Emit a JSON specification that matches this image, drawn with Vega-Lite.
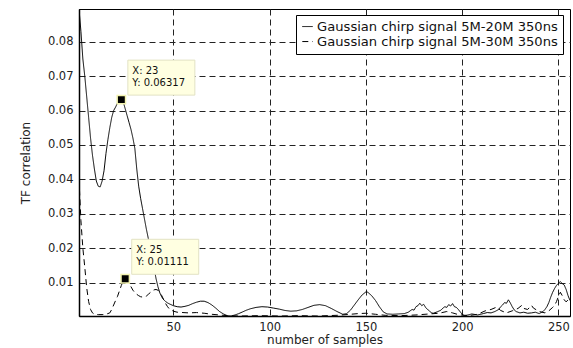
{
  "$schema": "https://vega.github.io/schema/vega-lite/v6.json",
  "autosize": {"type": "none"},
  "padding": {"left": 79, "top": 9, "right": 3, "bottom": 32},
  "width": 491,
  "height": 307,
  "background": "white",
  "config": {
    "view": {"stroke": "black", "strokeWidth": 1},
    "axis": {
      "domainColor": "black", "domainWidth": 1.5,
      "gridColor": "#222", "gridDash": [6, 4], "gridWidth": 1,
      "ticks": false,
      "labelFont": "DejaVu Sans", "labelFontSize": 11.5, "labelColor": "#222",
      "titleFont": "DejaVu Sans", "titleFontSize": 12, "titleFontWeight": "normal", "titleColor": "#222"
    },
    "legend": {
      "orient": "none", "legendX": 217, "legendY": 6,
      "fillColor": "white", "strokeColor": "black", "padding": 5,
      "labelFont": "DejaVu Sans", "labelFontSize": 13.1, "labelColor": "#111", "labelLimit": 0,
      "symbolType": "stroke", "symbolStrokeWidth": 1, "symbolStrokeColor": "black",
      "symbolSize": 110, "labelOffset": 3, "rowPadding": 1
    }
  },
  "datasets": {
    "curves": [
      {"x":1,"y":0.0895,"s":"Gaussian chirp signal 5M-20M 350ns"},{"x":2,"y":0.083,"s":"Gaussian chirp signal 5M-20M 350ns"},{"x":3,"y":0.075,"s":"Gaussian chirp signal 5M-20M 350ns"},{"x":4,"y":0.07,"s":"Gaussian chirp signal 5M-20M 350ns"},{"x":5,"y":0.064,"s":"Gaussian chirp signal 5M-20M 350ns"},{"x":6,"y":0.058,"s":"Gaussian chirp signal 5M-20M 350ns"},{"x":7,"y":0.052,"s":"Gaussian chirp signal 5M-20M 350ns"},{"x":8,"y":0.047,"s":"Gaussian chirp signal 5M-20M 350ns"},{"x":9,"y":0.043,"s":"Gaussian chirp signal 5M-20M 350ns"},{"x":10,"y":0.0395,"s":"Gaussian chirp signal 5M-20M 350ns"},{"x":11,"y":0.038,"s":"Gaussian chirp signal 5M-20M 350ns"},{"x":12,"y":0.0378,"s":"Gaussian chirp signal 5M-20M 350ns"},{"x":13,"y":0.0395,"s":"Gaussian chirp signal 5M-20M 350ns"},{"x":14,"y":0.0425,"s":"Gaussian chirp signal 5M-20M 350ns"},{"x":15,"y":0.0475,"s":"Gaussian chirp signal 5M-20M 350ns"},{"x":16,"y":0.0515,"s":"Gaussian chirp signal 5M-20M 350ns"},{"x":17,"y":0.055,"s":"Gaussian chirp signal 5M-20M 350ns"},{"x":18,"y":0.058,"s":"Gaussian chirp signal 5M-20M 350ns"},{"x":19,"y":0.06,"s":"Gaussian chirp signal 5M-20M 350ns"},{"x":20,"y":0.061,"s":"Gaussian chirp signal 5M-20M 350ns"},{"x":21,"y":0.0622,"s":"Gaussian chirp signal 5M-20M 350ns"},{"x":22,"y":0.063,"s":"Gaussian chirp signal 5M-20M 350ns"},{"x":23,"y":0.06317,"s":"Gaussian chirp signal 5M-20M 350ns"},{"x":24,"y":0.0625,"s":"Gaussian chirp signal 5M-20M 350ns"},{"x":25,"y":0.0605,"s":"Gaussian chirp signal 5M-20M 350ns"},{"x":26,"y":0.0585,"s":"Gaussian chirp signal 5M-20M 350ns"},{"x":27,"y":0.0565,"s":"Gaussian chirp signal 5M-20M 350ns"},{"x":28,"y":0.0545,"s":"Gaussian chirp signal 5M-20M 350ns"},{"x":29,"y":0.052,"s":"Gaussian chirp signal 5M-20M 350ns"},{"x":30,"y":0.049,"s":"Gaussian chirp signal 5M-20M 350ns"},{"x":31,"y":0.043,"s":"Gaussian chirp signal 5M-20M 350ns"},{"x":32,"y":0.038,"s":"Gaussian chirp signal 5M-20M 350ns"},{"x":33,"y":0.0345,"s":"Gaussian chirp signal 5M-20M 350ns"},{"x":34,"y":0.0315,"s":"Gaussian chirp signal 5M-20M 350ns"},{"x":35,"y":0.0285,"s":"Gaussian chirp signal 5M-20M 350ns"},{"x":36,"y":0.0255,"s":"Gaussian chirp signal 5M-20M 350ns"},{"x":37,"y":0.0228,"s":"Gaussian chirp signal 5M-20M 350ns"},{"x":38,"y":0.02,"s":"Gaussian chirp signal 5M-20M 350ns"},{"x":39,"y":0.0172,"s":"Gaussian chirp signal 5M-20M 350ns"},{"x":40,"y":0.0142,"s":"Gaussian chirp signal 5M-20M 350ns"},{"x":41,"y":0.0112,"s":"Gaussian chirp signal 5M-20M 350ns"},{"x":42,"y":0.0088,"s":"Gaussian chirp signal 5M-20M 350ns"},{"x":43,"y":0.007,"s":"Gaussian chirp signal 5M-20M 350ns"},{"x":44,"y":0.0058,"s":"Gaussian chirp signal 5M-20M 350ns"},{"x":45,"y":0.005,"s":"Gaussian chirp signal 5M-20M 350ns"},{"x":46,"y":0.0045,"s":"Gaussian chirp signal 5M-20M 350ns"},{"x":47,"y":0.0041,"s":"Gaussian chirp signal 5M-20M 350ns"},{"x":48,"y":0.0038,"s":"Gaussian chirp signal 5M-20M 350ns"},{"x":50,"y":0.0033,"s":"Gaussian chirp signal 5M-20M 350ns"},{"x":52,"y":0.003,"s":"Gaussian chirp signal 5M-20M 350ns"},{"x":54,"y":0.0029,"s":"Gaussian chirp signal 5M-20M 350ns"},{"x":56,"y":0.0031,"s":"Gaussian chirp signal 5M-20M 350ns"},{"x":58,"y":0.0034,"s":"Gaussian chirp signal 5M-20M 350ns"},{"x":60,"y":0.0039,"s":"Gaussian chirp signal 5M-20M 350ns"},{"x":62,"y":0.0043,"s":"Gaussian chirp signal 5M-20M 350ns"},{"x":64,"y":0.0046,"s":"Gaussian chirp signal 5M-20M 350ns"},{"x":66,"y":0.0046,"s":"Gaussian chirp signal 5M-20M 350ns"},{"x":68,"y":0.0042,"s":"Gaussian chirp signal 5M-20M 350ns"},{"x":70,"y":0.0035,"s":"Gaussian chirp signal 5M-20M 350ns"},{"x":72,"y":0.0026,"s":"Gaussian chirp signal 5M-20M 350ns"},{"x":74,"y":0.0016,"s":"Gaussian chirp signal 5M-20M 350ns"},{"x":76,"y":0.0009,"s":"Gaussian chirp signal 5M-20M 350ns"},{"x":78,"y":0.0004,"s":"Gaussian chirp signal 5M-20M 350ns"},{"x":80,"y":0.0003,"s":"Gaussian chirp signal 5M-20M 350ns"},{"x":82,"y":0.0006,"s":"Gaussian chirp signal 5M-20M 350ns"},{"x":84,"y":0.001,"s":"Gaussian chirp signal 5M-20M 350ns"},{"x":86,"y":0.0015,"s":"Gaussian chirp signal 5M-20M 350ns"},{"x":88,"y":0.002,"s":"Gaussian chirp signal 5M-20M 350ns"},{"x":90,"y":0.0024,"s":"Gaussian chirp signal 5M-20M 350ns"},{"x":93,"y":0.0028,"s":"Gaussian chirp signal 5M-20M 350ns"},{"x":96,"y":0.003,"s":"Gaussian chirp signal 5M-20M 350ns"},{"x":99,"y":0.0029,"s":"Gaussian chirp signal 5M-20M 350ns"},{"x":102,"y":0.0026,"s":"Gaussian chirp signal 5M-20M 350ns"},{"x":105,"y":0.0023,"s":"Gaussian chirp signal 5M-20M 350ns"},{"x":108,"y":0.0019,"s":"Gaussian chirp signal 5M-20M 350ns"},{"x":111,"y":0.0017,"s":"Gaussian chirp signal 5M-20M 350ns"},{"x":114,"y":0.0018,"s":"Gaussian chirp signal 5M-20M 350ns"},{"x":117,"y":0.0022,"s":"Gaussian chirp signal 5M-20M 350ns"},{"x":120,"y":0.0028,"s":"Gaussian chirp signal 5M-20M 350ns"},{"x":123,"y":0.0034,"s":"Gaussian chirp signal 5M-20M 350ns"},{"x":126,"y":0.0036,"s":"Gaussian chirp signal 5M-20M 350ns"},{"x":129,"y":0.0033,"s":"Gaussian chirp signal 5M-20M 350ns"},{"x":132,"y":0.0025,"s":"Gaussian chirp signal 5M-20M 350ns"},{"x":135,"y":0.0016,"s":"Gaussian chirp signal 5M-20M 350ns"},{"x":138,"y":0.0008,"s":"Gaussian chirp signal 5M-20M 350ns"},{"x":140,"y":0.001,"s":"Gaussian chirp signal 5M-20M 350ns"},{"x":142,"y":0.002,"s":"Gaussian chirp signal 5M-20M 350ns"},{"x":144,"y":0.0035,"s":"Gaussian chirp signal 5M-20M 350ns"},{"x":146,"y":0.005,"s":"Gaussian chirp signal 5M-20M 350ns"},{"x":148,"y":0.0064,"s":"Gaussian chirp signal 5M-20M 350ns"},{"x":150,"y":0.0073,"s":"Gaussian chirp signal 5M-20M 350ns"},{"x":151,"y":0.0072,"s":"Gaussian chirp signal 5M-20M 350ns"},{"x":153,"y":0.0062,"s":"Gaussian chirp signal 5M-20M 350ns"},{"x":155,"y":0.0048,"s":"Gaussian chirp signal 5M-20M 350ns"},{"x":157,"y":0.003,"s":"Gaussian chirp signal 5M-20M 350ns"},{"x":159,"y":0.0015,"s":"Gaussian chirp signal 5M-20M 350ns"},{"x":161,"y":0.0009,"s":"Gaussian chirp signal 5M-20M 350ns"},{"x":164,"y":0.0008,"s":"Gaussian chirp signal 5M-20M 350ns"},{"x":167,"y":0.0009,"s":"Gaussian chirp signal 5M-20M 350ns"},{"x":170,"y":0.001,"s":"Gaussian chirp signal 5M-20M 350ns"},{"x":172,"y":0.0014,"s":"Gaussian chirp signal 5M-20M 350ns"},{"x":174,"y":0.0022,"s":"Gaussian chirp signal 5M-20M 350ns"},{"x":175,"y":0.002,"s":"Gaussian chirp signal 5M-20M 350ns"},{"x":176,"y":0.003,"s":"Gaussian chirp signal 5M-20M 350ns"},{"x":177,"y":0.0033,"s":"Gaussian chirp signal 5M-20M 350ns"},{"x":178,"y":0.004,"s":"Gaussian chirp signal 5M-20M 350ns"},{"x":179,"y":0.0033,"s":"Gaussian chirp signal 5M-20M 350ns"},{"x":180,"y":0.0037,"s":"Gaussian chirp signal 5M-20M 350ns"},{"x":181,"y":0.0028,"s":"Gaussian chirp signal 5M-20M 350ns"},{"x":182,"y":0.0022,"s":"Gaussian chirp signal 5M-20M 350ns"},{"x":183,"y":0.0018,"s":"Gaussian chirp signal 5M-20M 350ns"},{"x":184,"y":0.0012,"s":"Gaussian chirp signal 5M-20M 350ns"},{"x":185,"y":0.0011,"s":"Gaussian chirp signal 5M-20M 350ns"},{"x":187,"y":0.0015,"s":"Gaussian chirp signal 5M-20M 350ns"},{"x":189,"y":0.002,"s":"Gaussian chirp signal 5M-20M 350ns"},{"x":190,"y":0.0026,"s":"Gaussian chirp signal 5M-20M 350ns"},{"x":191,"y":0.003,"s":"Gaussian chirp signal 5M-20M 350ns"},{"x":192,"y":0.0028,"s":"Gaussian chirp signal 5M-20M 350ns"},{"x":193,"y":0.0036,"s":"Gaussian chirp signal 5M-20M 350ns"},{"x":194,"y":0.0032,"s":"Gaussian chirp signal 5M-20M 350ns"},{"x":195,"y":0.0039,"s":"Gaussian chirp signal 5M-20M 350ns"},{"x":196,"y":0.003,"s":"Gaussian chirp signal 5M-20M 350ns"},{"x":197,"y":0.0028,"s":"Gaussian chirp signal 5M-20M 350ns"},{"x":198,"y":0.0022,"s":"Gaussian chirp signal 5M-20M 350ns"},{"x":199,"y":0.0015,"s":"Gaussian chirp signal 5M-20M 350ns"},{"x":200,"y":0.0008,"s":"Gaussian chirp signal 5M-20M 350ns"},{"x":201,"y":0.0004,"s":"Gaussian chirp signal 5M-20M 350ns"},{"x":203,"y":0.0006,"s":"Gaussian chirp signal 5M-20M 350ns"},{"x":205,"y":0.0009,"s":"Gaussian chirp signal 5M-20M 350ns"},{"x":208,"y":0.0006,"s":"Gaussian chirp signal 5M-20M 350ns"},{"x":211,"y":0.001,"s":"Gaussian chirp signal 5M-20M 350ns"},{"x":213,"y":0.0013,"s":"Gaussian chirp signal 5M-20M 350ns"},{"x":215,"y":0.0012,"s":"Gaussian chirp signal 5M-20M 350ns"},{"x":217,"y":0.0016,"s":"Gaussian chirp signal 5M-20M 350ns"},{"x":219,"y":0.0022,"s":"Gaussian chirp signal 5M-20M 350ns"},{"x":220,"y":0.003,"s":"Gaussian chirp signal 5M-20M 350ns"},{"x":221,"y":0.0035,"s":"Gaussian chirp signal 5M-20M 350ns"},{"x":222,"y":0.0042,"s":"Gaussian chirp signal 5M-20M 350ns"},{"x":223,"y":0.004,"s":"Gaussian chirp signal 5M-20M 350ns"},{"x":224,"y":0.005,"s":"Gaussian chirp signal 5M-20M 350ns"},{"x":225,"y":0.0041,"s":"Gaussian chirp signal 5M-20M 350ns"},{"x":226,"y":0.003,"s":"Gaussian chirp signal 5M-20M 350ns"},{"x":227,"y":0.0021,"s":"Gaussian chirp signal 5M-20M 350ns"},{"x":228,"y":0.0016,"s":"Gaussian chirp signal 5M-20M 350ns"},{"x":230,"y":0.0012,"s":"Gaussian chirp signal 5M-20M 350ns"},{"x":232,"y":0.0014,"s":"Gaussian chirp signal 5M-20M 350ns"},{"x":234,"y":0.0011,"s":"Gaussian chirp signal 5M-20M 350ns"},{"x":236,"y":0.0012,"s":"Gaussian chirp signal 5M-20M 350ns"},{"x":238,"y":0.0014,"s":"Gaussian chirp signal 5M-20M 350ns"},{"x":240,"y":0.001,"s":"Gaussian chirp signal 5M-20M 350ns"},{"x":242,"y":0.0016,"s":"Gaussian chirp signal 5M-20M 350ns"},{"x":243,"y":0.0022,"s":"Gaussian chirp signal 5M-20M 350ns"},{"x":244,"y":0.003,"s":"Gaussian chirp signal 5M-20M 350ns"},{"x":245,"y":0.0042,"s":"Gaussian chirp signal 5M-20M 350ns"},{"x":246,"y":0.0058,"s":"Gaussian chirp signal 5M-20M 350ns"},{"x":247,"y":0.0072,"s":"Gaussian chirp signal 5M-20M 350ns"},{"x":248,"y":0.0083,"s":"Gaussian chirp signal 5M-20M 350ns"},{"x":249,"y":0.0092,"s":"Gaussian chirp signal 5M-20M 350ns"},{"x":250,"y":0.0098,"s":"Gaussian chirp signal 5M-20M 350ns"},{"x":251,"y":0.0103,"s":"Gaussian chirp signal 5M-20M 350ns"},{"x":252,"y":0.0097,"s":"Gaussian chirp signal 5M-20M 350ns"},{"x":253,"y":0.0093,"s":"Gaussian chirp signal 5M-20M 350ns"},{"x":254,"y":0.008,"s":"Gaussian chirp signal 5M-20M 350ns"},{"x":255,"y":0.0062,"s":"Gaussian chirp signal 5M-20M 350ns"},{"x":256,"y":0.0048,"s":"Gaussian chirp signal 5M-20M 350ns"},
      {"x":1,"y":0.04,"s":"Gaussian chirp signal 5M-30M 350ns"},{"x":2,"y":0.028,"s":"Gaussian chirp signal 5M-30M 350ns"},{"x":3,"y":0.02,"s":"Gaussian chirp signal 5M-30M 350ns"},{"x":4,"y":0.0145,"s":"Gaussian chirp signal 5M-30M 350ns"},{"x":5,"y":0.0085,"s":"Gaussian chirp signal 5M-30M 350ns"},{"x":6,"y":0.0045,"s":"Gaussian chirp signal 5M-30M 350ns"},{"x":7,"y":0.0022,"s":"Gaussian chirp signal 5M-30M 350ns"},{"x":8,"y":0.0012,"s":"Gaussian chirp signal 5M-30M 350ns"},{"x":9,"y":0.0008,"s":"Gaussian chirp signal 5M-30M 350ns"},{"x":11,"y":0.0007,"s":"Gaussian chirp signal 5M-30M 350ns"},{"x":13,"y":0.0007,"s":"Gaussian chirp signal 5M-30M 350ns"},{"x":15,"y":0.0008,"s":"Gaussian chirp signal 5M-30M 350ns"},{"x":17,"y":0.0012,"s":"Gaussian chirp signal 5M-30M 350ns"},{"x":18,"y":0.0022,"s":"Gaussian chirp signal 5M-30M 350ns"},{"x":19,"y":0.0035,"s":"Gaussian chirp signal 5M-30M 350ns"},{"x":20,"y":0.0048,"s":"Gaussian chirp signal 5M-30M 350ns"},{"x":21,"y":0.006,"s":"Gaussian chirp signal 5M-30M 350ns"},{"x":22,"y":0.0076,"s":"Gaussian chirp signal 5M-30M 350ns"},{"x":23,"y":0.0092,"s":"Gaussian chirp signal 5M-30M 350ns"},{"x":24,"y":0.0105,"s":"Gaussian chirp signal 5M-30M 350ns"},{"x":25,"y":0.01111,"s":"Gaussian chirp signal 5M-30M 350ns"},{"x":26,"y":0.0107,"s":"Gaussian chirp signal 5M-30M 350ns"},{"x":27,"y":0.0098,"s":"Gaussian chirp signal 5M-30M 350ns"},{"x":28,"y":0.0088,"s":"Gaussian chirp signal 5M-30M 350ns"},{"x":29,"y":0.0078,"s":"Gaussian chirp signal 5M-30M 350ns"},{"x":30,"y":0.0071,"s":"Gaussian chirp signal 5M-30M 350ns"},{"x":31,"y":0.0066,"s":"Gaussian chirp signal 5M-30M 350ns"},{"x":32,"y":0.0062,"s":"Gaussian chirp signal 5M-30M 350ns"},{"x":33,"y":0.0059,"s":"Gaussian chirp signal 5M-30M 350ns"},{"x":34,"y":0.0058,"s":"Gaussian chirp signal 5M-30M 350ns"},{"x":35,"y":0.0058,"s":"Gaussian chirp signal 5M-30M 350ns"},{"x":36,"y":0.0061,"s":"Gaussian chirp signal 5M-30M 350ns"},{"x":37,"y":0.0066,"s":"Gaussian chirp signal 5M-30M 350ns"},{"x":38,"y":0.0071,"s":"Gaussian chirp signal 5M-30M 350ns"},{"x":39,"y":0.0076,"s":"Gaussian chirp signal 5M-30M 350ns"},{"x":40,"y":0.0079,"s":"Gaussian chirp signal 5M-30M 350ns"},{"x":41,"y":0.008,"s":"Gaussian chirp signal 5M-30M 350ns"},{"x":42,"y":0.0078,"s":"Gaussian chirp signal 5M-30M 350ns"},{"x":43,"y":0.0072,"s":"Gaussian chirp signal 5M-30M 350ns"},{"x":44,"y":0.0062,"s":"Gaussian chirp signal 5M-30M 350ns"},{"x":45,"y":0.005,"s":"Gaussian chirp signal 5M-30M 350ns"},{"x":46,"y":0.0039,"s":"Gaussian chirp signal 5M-30M 350ns"},{"x":47,"y":0.003,"s":"Gaussian chirp signal 5M-30M 350ns"},{"x":48,"y":0.0023,"s":"Gaussian chirp signal 5M-30M 350ns"},{"x":50,"y":0.0017,"s":"Gaussian chirp signal 5M-30M 350ns"},{"x":52,"y":0.0014,"s":"Gaussian chirp signal 5M-30M 350ns"},{"x":55,"y":0.0013,"s":"Gaussian chirp signal 5M-30M 350ns"},{"x":58,"y":0.0012,"s":"Gaussian chirp signal 5M-30M 350ns"},{"x":62,"y":0.0013,"s":"Gaussian chirp signal 5M-30M 350ns"},{"x":66,"y":0.0011,"s":"Gaussian chirp signal 5M-30M 350ns"},{"x":70,"y":0.0008,"s":"Gaussian chirp signal 5M-30M 350ns"},{"x":74,"y":0.0006,"s":"Gaussian chirp signal 5M-30M 350ns"},{"x":78,"y":0.0004,"s":"Gaussian chirp signal 5M-30M 350ns"},{"x":85,"y":0.0003,"s":"Gaussian chirp signal 5M-30M 350ns"},{"x":95,"y":0.0004,"s":"Gaussian chirp signal 5M-30M 350ns"},{"x":105,"y":0.0003,"s":"Gaussian chirp signal 5M-30M 350ns"},{"x":115,"y":0.0004,"s":"Gaussian chirp signal 5M-30M 350ns"},{"x":125,"y":0.0003,"s":"Gaussian chirp signal 5M-30M 350ns"},{"x":135,"y":0.0005,"s":"Gaussian chirp signal 5M-30M 350ns"},{"x":142,"y":0.0008,"s":"Gaussian chirp signal 5M-30M 350ns"},{"x":146,"y":0.001,"s":"Gaussian chirp signal 5M-30M 350ns"},{"x":150,"y":0.0011,"s":"Gaussian chirp signal 5M-30M 350ns"},{"x":155,"y":0.0008,"s":"Gaussian chirp signal 5M-30M 350ns"},{"x":160,"y":0.0005,"s":"Gaussian chirp signal 5M-30M 350ns"},{"x":168,"y":0.0004,"s":"Gaussian chirp signal 5M-30M 350ns"},{"x":176,"y":0.0006,"s":"Gaussian chirp signal 5M-30M 350ns"},{"x":183,"y":0.0009,"s":"Gaussian chirp signal 5M-30M 350ns"},{"x":188,"y":0.0011,"s":"Gaussian chirp signal 5M-30M 350ns"},{"x":192,"y":0.0016,"s":"Gaussian chirp signal 5M-30M 350ns"},{"x":195,"y":0.0012,"s":"Gaussian chirp signal 5M-30M 350ns"},{"x":198,"y":0.0007,"s":"Gaussian chirp signal 5M-30M 350ns"},{"x":203,"y":0.0004,"s":"Gaussian chirp signal 5M-30M 350ns"},{"x":208,"y":0.0008,"s":"Gaussian chirp signal 5M-30M 350ns"},{"x":212,"y":0.0018,"s":"Gaussian chirp signal 5M-30M 350ns"},{"x":215,"y":0.0022,"s":"Gaussian chirp signal 5M-30M 350ns"},{"x":218,"y":0.0029,"s":"Gaussian chirp signal 5M-30M 350ns"},{"x":220,"y":0.0019,"s":"Gaussian chirp signal 5M-30M 350ns"},{"x":223,"y":0.0012,"s":"Gaussian chirp signal 5M-30M 350ns"},{"x":226,"y":0.0018,"s":"Gaussian chirp signal 5M-30M 350ns"},{"x":229,"y":0.0025,"s":"Gaussian chirp signal 5M-30M 350ns"},{"x":231,"y":0.0034,"s":"Gaussian chirp signal 5M-30M 350ns"},{"x":232,"y":0.0025,"s":"Gaussian chirp signal 5M-30M 350ns"},{"x":234,"y":0.0022,"s":"Gaussian chirp signal 5M-30M 350ns"},{"x":236,"y":0.0034,"s":"Gaussian chirp signal 5M-30M 350ns"},{"x":237,"y":0.0026,"s":"Gaussian chirp signal 5M-30M 350ns"},{"x":240,"y":0.0016,"s":"Gaussian chirp signal 5M-30M 350ns"},{"x":243,"y":0.0012,"s":"Gaussian chirp signal 5M-30M 350ns"},{"x":245,"y":0.0018,"s":"Gaussian chirp signal 5M-30M 350ns"},{"x":247,"y":0.0028,"s":"Gaussian chirp signal 5M-30M 350ns"},{"x":248,"y":0.0034,"s":"Gaussian chirp signal 5M-30M 350ns"},{"x":249,"y":0.0045,"s":"Gaussian chirp signal 5M-30M 350ns"},{"x":250,"y":0.006,"s":"Gaussian chirp signal 5M-30M 350ns"},{"x":251,"y":0.0072,"s":"Gaussian chirp signal 5M-30M 350ns"},{"x":252,"y":0.0062,"s":"Gaussian chirp signal 5M-30M 350ns"},{"x":253,"y":0.005,"s":"Gaussian chirp signal 5M-30M 350ns"},{"x":254,"y":0.0044,"s":"Gaussian chirp signal 5M-30M 350ns"},{"x":255,"y":0.005,"s":"Gaussian chirp signal 5M-30M 350ns"},{"x":256,"y":0.0055,"s":"Gaussian chirp signal 5M-30M 350ns"}
    ],
    "tips": [
      {"x": 23, "y": 0.06317, "tx": "X: 23", "ty": "Y: 0.06317"},
      {"x": 25, "y": 0.01111, "tx": "X: 25", "ty": "Y: 0.01111"}
    ]
  },
  "layer": [
    {
      "data": {"name": "curves"},
      "mark": {"type": "line", "color": "black", "strokeWidth": 1, "clip": true},
      "encoding": {
        "x": {"field": "x", "type": "quantitative", "scale": {"domain": [1, 256], "nice": false, "zero": false},
              "axis": {"values": [50, 100, 150, 200, 250], "title": "number of samples", "labelPadding": 5, "titlePadding": 2}},
        "y": {"field": "y", "type": "quantitative", "scale": {"domain": [0.0003, 0.0895], "nice": false, "zero": false},
              "axis": {"values": [0.01, 0.02, 0.03, 0.04, 0.05, 0.06, 0.07, 0.08], "format": ".2f", "title": "TF correlation", "labelPadding": 6, "titlePadding": 15}},
        "strokeDash": {"field": "s", "type": "nominal", "scale": {"range": [[1, 0], [6, 4]]}, "legend": {"title": null}}
      }
    },
    {
      "data": {"name": "tips"},
      "mark": {"type": "rect", "width": 67, "height": 35, "xOffset": 40, "yOffset": -22, "fill": "#FFFFE1", "stroke": "#E2E2C4", "strokeWidth": 1},
      "encoding": {
        "x": {"field": "x", "type": "quantitative"},
        "y": {"field": "y", "type": "quantitative"}
      }
    },
    {
      "data": {"name": "tips"},
      "mark": {"type": "text", "align": "left", "baseline": "middle", "dx": 11, "dy": -28.5, "font": "DejaVu Sans", "fontSize": 10, "color": "#111"},
      "encoding": {
        "x": {"field": "x", "type": "quantitative"},
        "y": {"field": "y", "type": "quantitative"},
        "text": {"field": "tx"}
      }
    },
    {
      "data": {"name": "tips"},
      "mark": {"type": "text", "align": "left", "baseline": "middle", "dx": 11, "dy": -16.5, "font": "DejaVu Sans", "fontSize": 10, "color": "#111"},
      "encoding": {
        "x": {"field": "x", "type": "quantitative"},
        "y": {"field": "y", "type": "quantitative"},
        "text": {"field": "ty"}
      }
    },
    {
      "data": {"name": "tips"},
      "mark": {"type": "point", "shape": "square", "size": 70, "filled": true, "fill": "black", "stroke": "#F2F2B0", "strokeWidth": 1.5, "opacity": 1},
      "encoding": {
        "x": {"field": "x", "type": "quantitative"},
        "y": {"field": "y", "type": "quantitative"}
      }
    }
  ]
}
